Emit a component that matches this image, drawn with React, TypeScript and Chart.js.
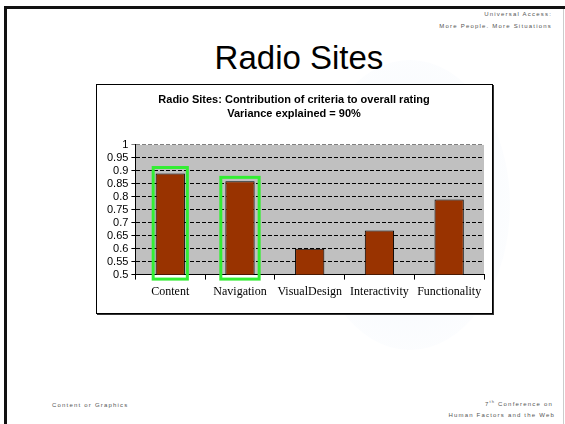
import React, { useEffect, useRef } from "react";
import { Chart, registerables } from "chart.js";

Chart.register(...registerables);

const categories = ["Content", "Navigation", "VisualDesign", "Interactivity", "Functionality"];
const contribution = [0.89, 0.86, 0.6, 0.67, 0.79];
const yTickLabels = ["0.5", "0.55", "0.6", "0.65", "0.7", "0.75", "0.8", "0.85", "0.9", "0.95", "1"];
const highlightIndex = [0, 1];
const highlightTop = [0.913, 0.875];
const chartTitle = ["Radio Sites: Contribution of criteria to overall rating", "Variance explained = 90%"];
const slideTitle = "Radio Sites";

const plotBg = {
  id: "plotBg",
  beforeDraw(chart: any) {
    const { ctx, chartArea } = chart;
    ctx.save();
    ctx.fillStyle = "#c0c0c0";
    ctx.fillRect(chartArea.left, chartArea.top, chartArea.right - chartArea.left, chartArea.bottom - chartArea.top);
    ctx.restore();
  },
};

const highlight = {
  id: "highlight",
  afterDatasetsDraw(chart: any) {
    const { ctx, scales } = chart;
    const xs = scales.x;
    const ys = scales.y;
    const catW = (xs.right - xs.left) / categories.length;
    const halfW = [0.245, 0.275];
    ctx.save();
    ctx.strokeStyle = "#33ee33";
    ctx.lineWidth = 3;
    highlightIndex.forEach((idx, i) => {
      const cx = xs.getPixelForValue(idx);
      const hw = catW * halfW[i];
      const top = ys.getPixelForValue(highlightTop[i]);
      const bottom = ys.getPixelForValue(Number(yTickLabels[0])) + 4.5;
      ctx.strokeRect(cx - hw, top, hw * 2, bottom - top);
    });
    ctx.restore();
  },
};

function ChartBox() {
  const ref = useRef<HTMLCanvasElement | null>(null);
  useEffect(() => {
    if (!ref.current) return;
    const chart = new Chart(ref.current, {
      type: "bar",
      data: {
        labels: categories,
        datasets: [
          {
            data: contribution,
            backgroundColor: "#993300",
            borderColor: "#000000",
            borderWidth: 1,
            barPercentage: 0.42,
            categoryPercentage: 1,
          },
        ],
      },
      options: {
        animation: false,
        responsive: true,
        maintainAspectRatio: false,
        layout: { padding: { left: 7, right: 8, top: 0, bottom: 9 } },
        plugins: {
          legend: { display: false },
          tooltip: { enabled: false },
          title: {
            display: true,
            text: chartTitle,
            color: "#000",
            font: { family: "'Liberation Sans', Arial, sans-serif", size: 11, weight: "bold", lineHeight: 1.27 },
            padding: { top: 8, bottom: 24 },
          },
        },
        scales: {
          x: {
            offset: true,
            grid: { display: true, drawOnChartArea: false, drawTicks: true, tickLength: 5, color: "#000", offset: true },
            border: { display: true, color: "#000", width: 1 },
            ticks: {
              color: "#000",
              padding: 5,
              maxRotation: 0,
              autoSkip: false,
              font: { family: "'Liberation Serif', 'Times New Roman', serif", size: 12 },
            },
          },
          y: {
            min: 0.5,
            max: 1,
            ticks: {
              stepSize: 0.05,
              autoSkip: false,
              color: "#000",
              padding: 3,
              font: { family: "'Liberation Sans', Arial, sans-serif", size: 11 },
              callback: (v: any) => {
                const s = String(Number(Number(v).toFixed(2)));
                return yTickLabels.includes(s) ? s : "";
              },
            },
            grid: {
              drawTicks: true,
              tickLength: 4,
              color: (c: any) => (c.tick && Math.abs(c.tick.value - 1) < 1e-6 ? "#808080" : "#000"),
              lineWidth: 1,
            },
            border: { display: true, color: "#000", width: 1, dash: [4, 2] },
          },
        },
      },
      plugins: [plotBg, highlight],
    });
    return () => chart.destroy();
  }, []);
  return <canvas ref={ref} />;
}

const tiny: React.CSSProperties = {
  position: "absolute",
  fontFamily: "'Liberation Sans', Arial, sans-serif",
  fontSize: 6,
  letterSpacing: 1.2,
  color: "#555",
  whiteSpace: "nowrap",
  lineHeight: "8px",
};

export default function App() {
  return (
    <div style={{ position: "fixed", left: 0, top: 0, width: 565, height: 424, background: "#fff", overflow: "hidden" }}>
      <div
        style={{
          position: "absolute",
          left: 310,
          top: 60,
          width: 200,
          height: 290,
          borderRadius: "50%",
          background: "radial-gradient(ellipse at center, rgba(225,235,248,0.35) 0%, rgba(232,240,250,0.2) 60%, rgba(255,255,255,0) 100%)",
        }}
      />
      <div style={{ position: "absolute", left: 4, top: 6, width: 561, height: 3, background: "#111" }} />
      <div style={{ position: "absolute", left: 4, top: 6, width: 3, height: 418, background: "#111" }} />
      <div style={{ position: "absolute", left: 563, top: 9, width: 1, height: 415, background: "#ccc" }} />
      <div style={{ ...tiny, right: 13, top: 10, textAlign: "right" }}>Universal Access:</div>
      <div style={{ ...tiny, right: 13, top: 22, textAlign: "right" }}>More People. More Situations</div>
      <div
        style={{
          position: "absolute",
          left: 0,
          width: 598,
          top: 38,
          textAlign: "center",
          fontFamily: "'Liberation Sans', Arial, sans-serif",
          fontSize: 33,
          lineHeight: "40px",
          color: "#000",
        }}
      >
        {slideTitle}
      </div>
      <div
        style={{
          position: "absolute",
          left: 96,
          top: 84,
          width: 395,
          height: 228,
          border: "1px solid #000",
          boxShadow: "1px 1px 0 #333",
          background: "#fff",
        }}
      >
        <div style={{ position: "relative", width: 395, height: 228 }}>
          <ChartBox />
        </div>
      </div>
      <div style={{ ...tiny, left: 52, top: 401 }}>Content or Graphics</div>
      <div style={{ ...tiny, right: 12, top: 400, textAlign: "right" }}>
        7<sup style={{ fontSize: 4, verticalAlign: "top", lineHeight: "4px" }}>th</sup> Conference on
      </div>
      <div style={{ ...tiny, right: 10, top: 411, textAlign: "right" }}>Human Factors and the Web</div>
    </div>
  );
}
